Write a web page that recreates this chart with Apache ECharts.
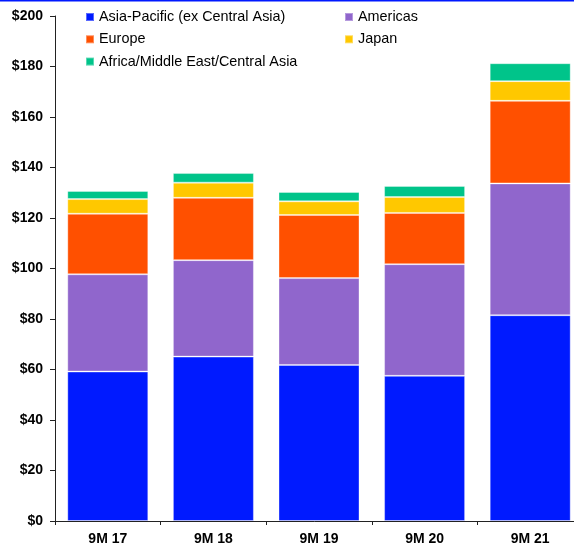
<!DOCTYPE html>
<html>
<head>
<meta charset="utf-8">
<script src="https://cdn.jsdelivr.net/npm/echarts@6/dist/echarts.min.js"></script>
<style>
html,body{margin:0;padding:0;background:#fff;}
#c{width:574px;height:552px;}
</style>
</head>
<body>
<div id="c"></div>
<script>
var categories = ['9M 17', '9M 18', '9M 19', '9M 20', '9M 21'];
var asiaPacific = [59.2, 65.1, 61.8, 57.5, 81.5];
var americas = [38.5, 38.2, 34.4, 44.2, 52.2];
var europe = [24.0, 24.7, 25.0, 20.3, 32.7];
var japan = [5.8, 6.0, 5.4, 6.3, 7.8];
var africaME = [3.2, 3.8, 3.7, 4.4, 7.1];
var yTicks = [0, 20, 40, 60, 80, 100, 120, 140, 160, 180, 200];

var names = ['Asia-Pacific (ex Central Asia)', 'Americas', 'Europe', 'Japan', 'Africa/Middle East/Central Asia'];
var values = [asiaPacific, americas, europe, japan, africaME];
var colors = ['#001aff', '#9066cc', '#ff5000', '#ffc800', '#00c48a'];

var chart = echarts.init(document.getElementById('c'));
var font = 'Liberation Sans, Arial, sans-serif';
var legendText = {fontFamily: font, fontSize: 14.4, lineHeight: 14, color: '#000'};
chart.setOption({
  animation: false,
  graphic: [{type: 'rect', shape: {x: 0, y: 0, width: 574, height: 1.5}, style: {fill: '#0019ff'}}],
  legend: [
    {data: [names[0], names[2], names[4]], orient: 'vertical', left: 85, top: 10, itemWidth: 8, itemHeight: 8, itemGap: 8.3, icon: 'rect', textStyle: legendText, padding: 0},
    {data: [names[1], names[3]], orient: 'vertical', left: 344, top: 10, itemWidth: 8, itemHeight: 8, itemGap: 8.3, icon: 'rect', textStyle: legendText, padding: 0}
  ],
  grid: {left: 55, width: 528, top: 16, bottom: 31, containLabel: false, outerBoundsMode: 'none'},
  xAxis: {
    type: 'category', data: categories,
    axisLine: {lineStyle: {color: '#222', width: 1}},
    axisTick: {show: true, length: 4, lineStyle: {color: '#222'}},
    axisLabel: {fontFamily: font, fontSize: 14, fontWeight: 'bold', color: '#000', margin: 11}
  },
  yAxis: {
    type: 'value', min: 0, max: 200, interval: 20,
    axisLine: {show: true, lineStyle: {color: '#222', width: 1}},
    axisTick: {show: true, length: 5, lineStyle: {color: '#222'}},
    splitLine: {show: false},
    axisLabel: {fontFamily: font, fontSize: 14, fontWeight: 'bold', color: '#000', margin: 12,
      formatter: function (v) { return yTicks.indexOf(v) >= 0 ? '$' + v : ''; }}
  },
  series: names.map(function (n, i) {
    return {
      name: n, type: 'bar', stack: 'total', data: values[i], barWidth: 81,
      itemStyle: {color: colors[i], borderColor: 'rgba(255,255,255,0.35)', borderWidth: 1}
    };
  })
});
</script>
</body>
</html>
